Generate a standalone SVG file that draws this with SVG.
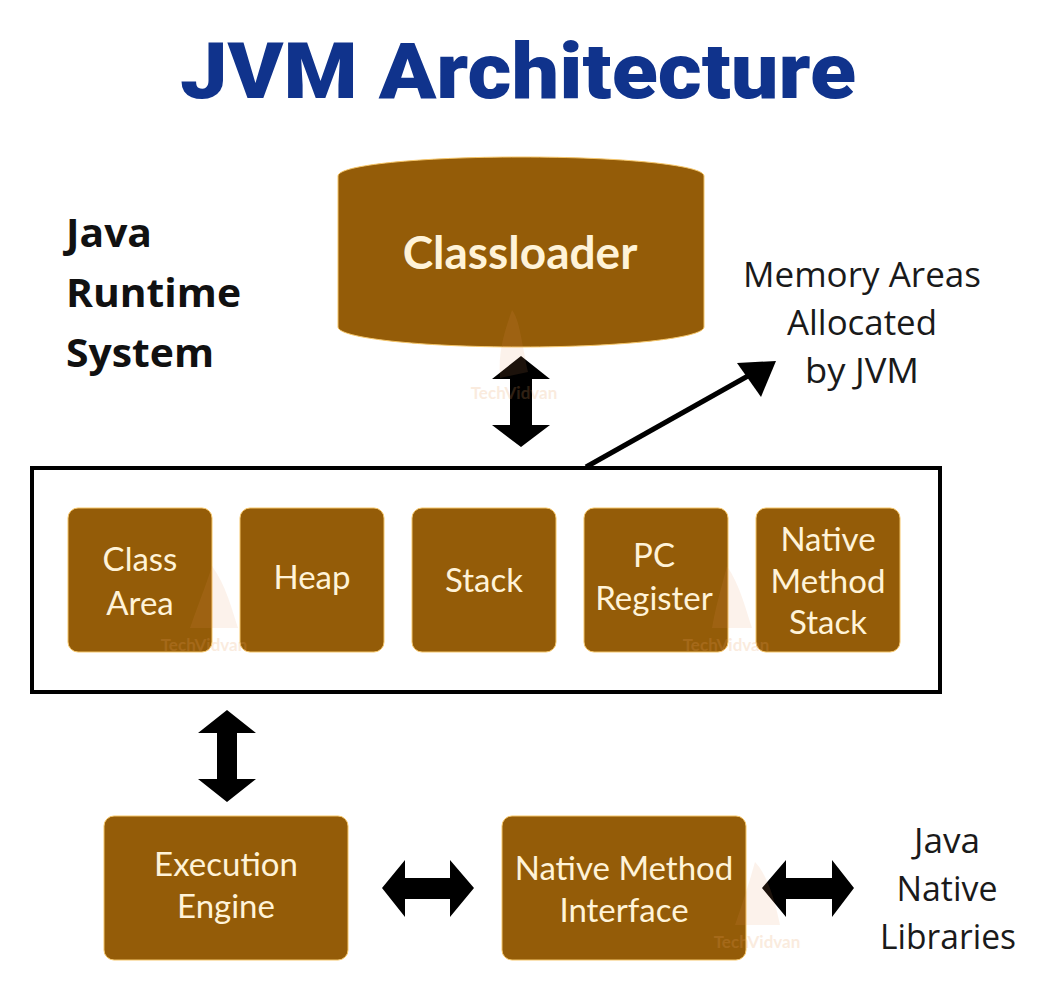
<svg xmlns="http://www.w3.org/2000/svg" width="1048" height="1006" viewBox="0 0 1048 1006">
<style>
text{font-family:"Lato","Carlito","Open Sans",sans-serif;text-anchor:middle}
.box{fill:#945c08;stroke:#f5c66a;stroke-width:1}
.w{fill:#fff3d8;font-size:33px}
.k{fill:#1a1a1a;font-size:34px;font-family:"Open Sans",sans-serif}
.b{fill:#111;font-size:40px;font-weight:700;text-anchor:start;font-family:"Open Sans",sans-serif}
.wm{fill:#e8a060;opacity:.2;font-size:17px;font-weight:700}
.wp{fill:#e8935a;opacity:.12}
.ar{fill:#000}
</style>
<rect width="1048" height="1006" fill="#fff"/>
<text id="title" x="518" y="98" textLength="676" lengthAdjust="spacingAndGlyphs" style="font-family:Roboto,sans-serif;font-weight:900;font-size:78px" fill="#10338c">JVM Architecture</text>
<g id="runtime-label"><text class="b" x="66" y="247" textLength="86" lengthAdjust="spacingAndGlyphs">Java</text><text class="b" x="66" y="307" textLength="175" lengthAdjust="spacingAndGlyphs">Runtime</text><text class="b" x="66" y="367" textLength="148" lengthAdjust="spacingAndGlyphs">System</text></g>
<g id="classloader"><path class="box" d="M338 176C338 165 420 157 521 157S704 165 704 176V327C704 338 622 347 521 347S338 338 338 327Z"/><text x="520" y="269" fill="#fff3d8" font-size="46" font-weight="700">Classloader</text></g>
<g id="memory-label"><text class="k" x="862" y="287" textLength="238" lengthAdjust="spacingAndGlyphs">Memory Areas</text><text class="k" x="862" y="335" textLength="150" lengthAdjust="spacingAndGlyphs">Allocated</text><text class="k" x="862" y="383" textLength="114" lengthAdjust="spacingAndGlyphs">by JVM</text></g>
<g id="memory-areas"><rect x="32" y="468" width="908" height="224" fill="none" stroke="#000" stroke-width="4"/></g>
<g id="class-area"><rect class="box" x="68" y="508" width="144" height="144" rx="10"/><text class="w" x="140" y="571">Class</text><text class="w" x="140" y="615">Area</text></g>
<g id="heap"><rect class="box" x="240" y="508" width="144" height="144" rx="10"/><text class="w" x="312" y="589">Heap</text></g>
<g id="stack"><rect class="box" x="412" y="508" width="144" height="144" rx="10"/><text class="w" x="484" y="592">Stack</text></g>
<g id="pc-register"><rect class="box" x="584" y="508" width="144" height="144" rx="10"/><text class="w" x="654" y="567">PC</text><text class="w" x="654" y="610">Register</text></g>
<g id="native-method-stack"><rect class="box" x="756" y="508" width="144" height="144" rx="10"/><text class="w" x="828" y="551">Native</text><text class="w" x="828" y="593">Method</text><text class="w" x="828" y="634">Stack</text></g>
<g id="execution-engine"><rect class="box" x="104" y="816" width="244" height="144" rx="10"/><text class="w" x="226" y="876">Execution</text><text class="w" x="226" y="918">Engine</text></g>
<g id="native-method-interface"><rect class="box" x="502" y="816" width="244" height="144" rx="10"/><text class="w" x="624" y="880">Native Method</text><text class="w" x="624" y="922">Interface</text></g>
<g id="native-libraries"><text class="k" x="947" y="853" textLength="66" lengthAdjust="spacingAndGlyphs">Java</text><text class="k" x="947" y="901" textLength="101" lengthAdjust="spacingAndGlyphs">Native</text><text class="k" x="948" y="949" textLength="136" lengthAdjust="spacingAndGlyphs">Libraries</text></g>
<g id="connectors">
<path class="ar" d="M521 356L550 379H532V425H550L521 447L492 425H510V379H492Z"/>
<path class="ar" d="M227 710L256 733H237V779H256L227 802L198 779H217V733H198Z"/>
<path class="ar" d="M382 888L405 860V878H450V860L474 888L450 917V899H405V917Z"/>
<path class="ar" d="M762 888L786 860V878H832V860L854 888L832 917V899H786V917Z"/>
<path d="M586 467L755 372" stroke="#000" stroke-width="5" fill="none"/>
<path class="ar" d="M737 363L776 361L761 397Z"/>
</g>
<g id="watermarks">
<path class="wp" d="M512 310C520 320 522 345 528 372L500 378C498 350 505 330 512 310Z"/>
<text class="wm" x="514" y="399">TechVidvan</text>
<path class="wp" d="M212 566C226 585 232 610 238 628H190C198 605 206 585 212 566Z"/>
<text class="wm" x="204" y="651">TechVidvan</text>
<path class="wp" d="M727 566C740 585 746 610 752 628H712C716 605 722 585 727 566Z"/>
<text class="wm" x="726" y="651">TechVidvan</text>
<path class="wp" d="M755 862C768 875 776 905 780 925H735C742 905 750 880 755 862Z"/>
<text class="wm" x="757" y="948">TechVidvan</text>
</g>
</svg>
